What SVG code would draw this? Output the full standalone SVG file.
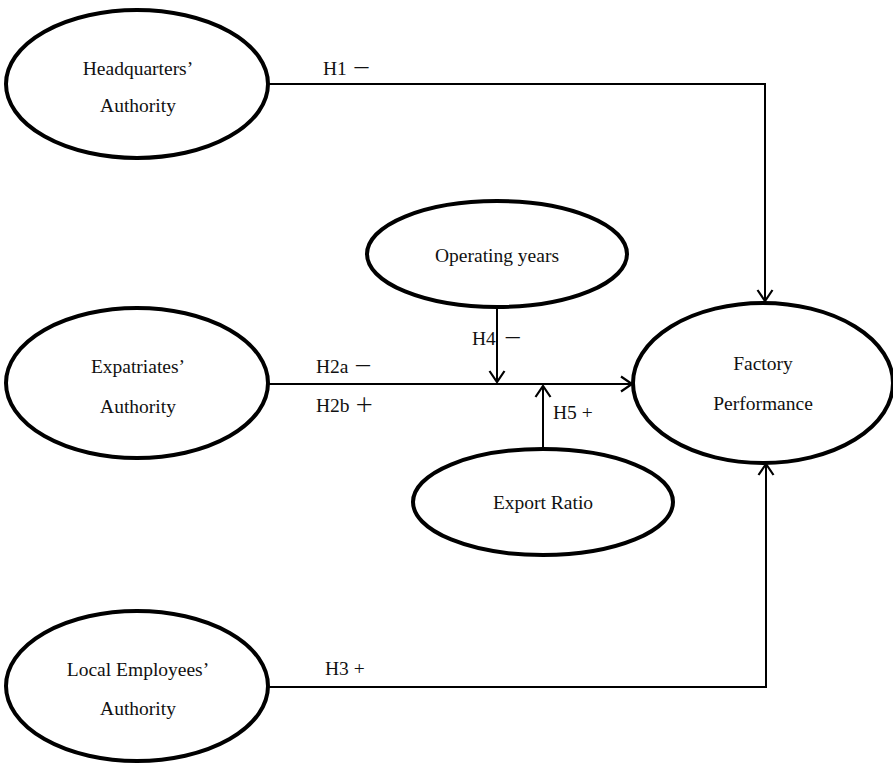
<svg xmlns="http://www.w3.org/2000/svg" width="893" height="763" viewBox="0 0 893 763">
<style>
.node ellipse{fill:#fff;stroke:#000;stroke-width:4}
text{font-family:"Liberation Serif","Noto Sans CJK SC",serif;font-size:19.5px;fill:#111}
.c{text-anchor:middle}
.conn path{fill:none;stroke:#000;stroke-width:2}
</style>
<defs>
<marker id="arr" markerUnits="userSpaceOnUse" markerWidth="24" markerHeight="24" refX="12" refY="12" orient="auto" overflow="visible">
<path d="M1,4.5 L12,12 L1,19.5" fill="none" stroke="#000" stroke-width="2.2"/>
</marker>
</defs>
<rect width="893" height="763" fill="#fff"/>
<g id="connectors" class="conn">
<path d="M268,84 H765 V301" marker-end="url(#arr)"/>
<path d="M268,384 H632" marker-end="url(#arr)"/>
<path d="M497,307 V382" marker-end="url(#arr)"/>
<path d="M543,449 V386" marker-end="url(#arr)"/>
<path d="M268,687 H766 V464" marker-end="url(#arr)"/>
</g>
<g id="labels">
<text x="323" y="75">H1 －</text>
<text x="316" y="373">H2a －</text>
<text x="316" y="412">H2b ＋</text>
<text x="472" y="345">H4</text>
<text x="503" y="345">－</text>
<text x="553" y="419">H5 +</text>
<text x="325" y="675">H3 +</text>
</g>
<g id="hq" class="node">
<ellipse cx="137" cy="84" rx="131" ry="74"/>
<text class="c" x="138" y="75">Headquarters’</text>
<text class="c" x="138" y="112">Authority</text>
</g>
<g id="op" class="node">
<ellipse cx="497" cy="254" rx="130" ry="53"/>
<text class="c" x="497" y="262">Operating years</text>
</g>
<g id="ex" class="node">
<ellipse cx="137" cy="383" rx="131" ry="75"/>
<text class="c" x="138" y="373">Expatriates’</text>
<text class="c" x="138" y="413">Authority</text>
</g>
<g id="fp" class="node">
<ellipse cx="763" cy="383" rx="130" ry="80"/>
<text class="c" x="763" y="370">Factory</text>
<text class="c" x="763" y="410">Performance</text>
</g>
<g id="er" class="node">
<ellipse cx="543" cy="502" rx="130" ry="53"/>
<text class="c" x="543" y="509">Export Ratio</text>
</g>
<g id="le" class="node">
<ellipse cx="137" cy="686" rx="131" ry="75"/>
<text class="c" x="138" y="676">Local Employees’</text>
<text class="c" x="138" y="715">Authority</text>
</g>
</svg>
